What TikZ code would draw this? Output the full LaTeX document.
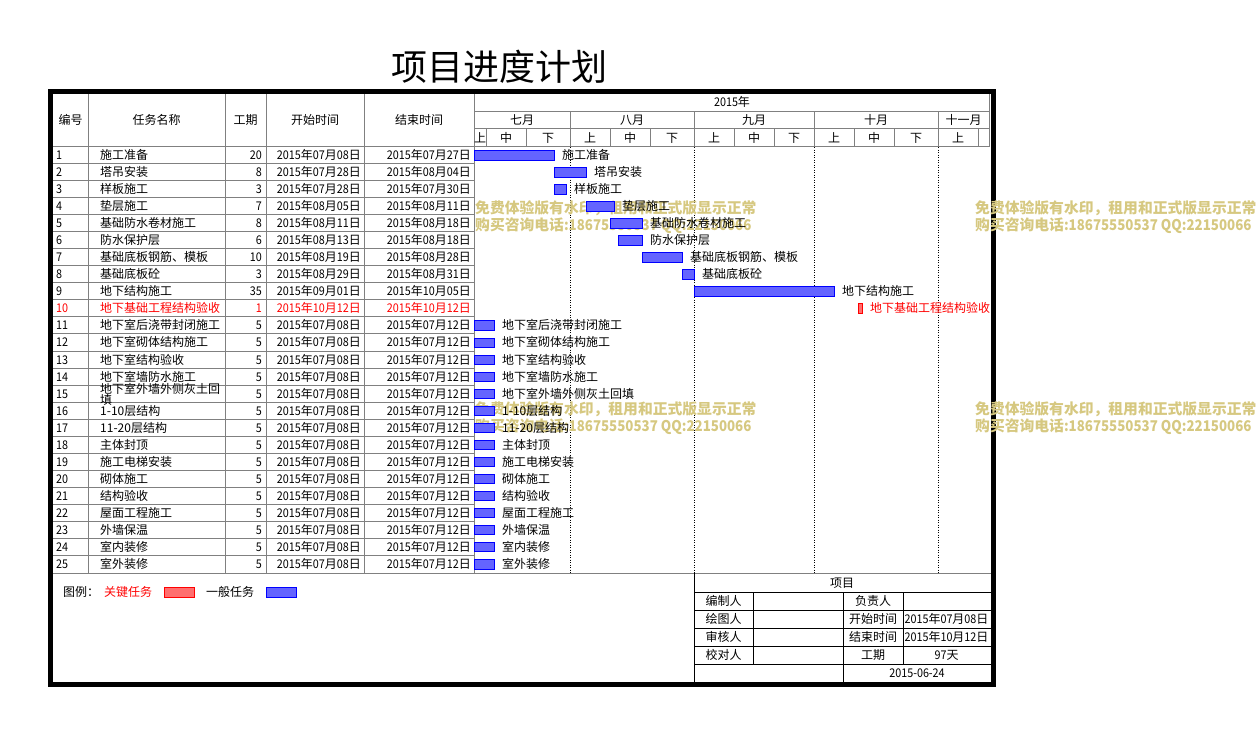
\documentclass[tikz,border=0pt]{standalone}
\usepackage{fontspec}
\setmainfont{Noto Sans CJK SC}
\newfontfamily\numf{Noto Sans CJK SC}[FakeStretch=0.9]
\definecolor{gridgray}{RGB}{128,128,128}
\definecolor{wmcol}{RGB}{214,200,128}
\definecolor{barblue}{RGB}{100,100,255}
\definecolor{barred}{RGB}{255,110,110}
\def\dte#1.#2\relax{{\numf 2015}年{\numf #1}月{\numf #2}日}
\begin{document}
\begin{tikzpicture}[x=1pt,y=-1pt,
  gridl/.style={draw=gridgray,line width=0.9pt},
  footl/.style={draw=black,line width=0.9pt},
  dotl/.style={draw=black,line width=1pt,dash pattern=on 1pt off 1.5pt},
  txt/.style={inner sep=0pt,font=\fontsize{12}{12}\selectfont,text height=10.5pt,text depth=1.5pt},
  wm/.style={inner sep=0pt,anchor=west,text=wmcol,font=\fontsize{14.8}{14.8}\selectfont\bfseries},
  barblack/.style={draw=blue,fill=barblue,line width=0.9pt},
  barred/.style={draw=red,fill=barred,line width=0.9pt}]
\useasboundingbox (0,0) rectangle (1258,734);

% title
\node[inner sep=0pt,font=\fontsize{36}{36}\selectfont] (title) at (499,67) {项目进度计划};

% left table grid
\foreach \x in {88,225,266,364,474} \draw[gridl] (\x,93) -- (\x,573);
\draw[gridl] (53,146.5) -- (989,146.5);
\foreach \k in {1,...,24} \draw[gridl] (53,146.5+\k*17.04) -- (474,146.5+\k*17.04);
\draw[gridl] (53,573) -- (992,573);

% gantt header grid
\draw[gridl] (474,111) -- (989,111);
\draw[gridl] (474,128.5) -- (989,128.5);
\draw[gridl] (989,93) -- (989,146.5);
\foreach \x in {570,694,814,938} \draw[gridl] (\x,111) -- (\x,146.5);
\foreach \x in {486,526,610,650,734,774,854,894,978} \draw[gridl] (\x,128.5) -- (\x,146.5);
\foreach \x in {570,694,814,938} \draw[dotl] (\x,147) -- (\x,572.5);

% footer grid
\draw[footl] (694,573) -- (694,683);
\foreach \y in {592,610,628,646,664} \draw[footl] (694,\y) -- (992,\y);
\draw[footl] (753,592) -- (753,664);
\draw[footl] (903,592) -- (903,664);
\draw[footl] (843,592) -- (843,683);

% frame
\draw[line width=5pt] (50.5,91.5) rectangle (993.5,684.5);

% header texts
\node[txt] (hno) at (70.5,120) {编号};
\node[txt] (hnm) at (156.5,120) {任务名称};
\node[txt] (hdu) at (245.5,120) {工期};
\node[txt] (hsd) at (315,120) {开始时间};
\node[txt] (hed) at (419,120) {结束时间};
\node[txt] (hyr) at (732,102) {{\numf 2015}年};
\node[txt] (m7) at (522,119.5) {七月};
\node[txt] (m8) at (632,119.5) {八月};
\node[txt] (m9) at (754,119.5) {九月};
\node[txt] (m10) at (876,119.5) {十月};
\node[txt] (m11) at (963.5,119.5) {十一月};
\foreach \x/\t [count=\n] in {480/上,506/中,548/下,590/上,630/中,672/下,714/上,754/中,794/下,834/上,874/中,916/下,958/上}
  \node[txt] (sub\n) at (\x,137.5) {\t};

% watermarks
\foreach \x/\y [count=\n] in {475/208,975/208,475/409,975/409}{
  \node[wm] (wma\n) at (\x,\y) {免费体验版有水印，租用和正式版显示正常};
  \node[wm] (wmb\n) at (\x,\y+17.5) {购买咨询电话{\numf :18675550537 QQ:22150066}};
}

% rows
\foreach \i/\nm/\d/\sa/\ea/\s/\e/\c in {
 1/施工准备/20/07.08/07.27/0/19/black,
 2/塔吊安装/8/07.28/08.04/20/27/black,
 3/样板施工/3/07.28/07.30/20/22/black,
 4/垫层施工/7/08.05/08.11/28/34/black,
 5/基础防水卷材施工/8/08.11/08.18/34/41/black,
 6/防水保护层/6/08.13/08.18/36/41/black,
 7/基础底板钢筋、模板/10/08.19/08.28/42/51/black,
 8/基础底板砼/3/08.29/08.31/52/54/black,
 9/地下结构施工/35/09.01/10.05/55/89/black,
 10/地下基础工程结构验收/1/10.12/10.12/96/96/red,
 11/地下室后浇带封闭施工/5/07.08/07.12/0/4/black,
 12/地下室砌体结构施工/5/07.08/07.12/0/4/black,
 13/地下室结构验收/5/07.08/07.12/0/4/black,
 14/地下室墙防水施工/5/07.08/07.12/0/4/black,
 15/地下室外墙外侧灰土回填/5/07.08/07.12/0/4/black,
 16/1-10层结构/5/07.08/07.12/0/4/black,
 17/11-20层结构/5/07.08/07.12/0/4/black,
 18/主体封顶/5/07.08/07.12/0/4/black,
 19/施工电梯安装/5/07.08/07.12/0/4/black,
 20/砌体施工/5/07.08/07.12/0/4/black,
 21/结构验收/5/07.08/07.12/0/4/black,
 22/屋面工程施工/5/07.08/07.12/0/4/black,
 23/外墙保温/5/07.08/07.12/0/4/black,
 24/室内装修/5/07.08/07.12/0/4/black,
 25/室外装修/5/07.08/07.12/0/4/black}{
  \pgfmathsetmacro\yc{146.5+(\i-0.5)*17.04}
  \pgfmathsetmacro\xa{474+4*\s}
  \pgfmathsetmacro\xb{474+4*(\e+1)}
  \node[txt,anchor=west,text=\c] (no\i) at (56,\yc) {\numf\i};
  \ifnum\i=15
    \node[txt,anchor=west,text=\c] (nm\i) at (100,\yc-4.5) {地下室外墙外侧灰土回};
    \node[txt,anchor=west,text=\c] (nmb\i) at (100,\yc+6.5) {填};
  \else
    \node[txt,anchor=west,text=\c] (nm\i) at (100,\yc) {\nm};
  \fi
  \node[txt,anchor=east,text=\c] (du\i) at (262,\yc) {\numf\d};
  \node[txt,anchor=east,text=\c] (sd\i) at (361,\yc) {\expandafter\dte\sa\relax};
  \node[txt,anchor=east,text=\c] (ed\i) at (471,\yc) {\expandafter\dte\ea\relax};
  \draw[bar\c] (\xa,\yc-4.5) rectangle (\xb,\yc+5);
  \node[txt,anchor=west,text=\c] (lb\i) at (\xb+8,\yc) {\nm};
}

% legend
\node[txt,anchor=west] (lg) at (63,591.5) {图例：};
\node[txt,anchor=west,text=red] (lgk) at (104,591.5) {关键任务};
\draw[barred] (164,587) rectangle (194,597);
\node[txt,anchor=west] (lgn) at (206,591.5) {一般任务};
\draw[barblack] (266,587) rectangle (296,597);

% footer texts
\node[txt] (fxm) at (842,582.5) {项目};
\node[txt] (fbz) at (723.5,601) {编制人};
\node[txt] (fht) at (723.5,619) {绘图人};
\node[txt] (fsh) at (723.5,637) {审核人};
\node[txt] (fjd) at (723.5,655) {校对人};
\node[txt] (ffz) at (873,601) {负责人};
\node[txt] (fks) at (873,619) {开始时间};
\node[txt] (fjs) at (873,637) {结束时间};
\node[txt] (fgq) at (873,655) {工期};
\node[txt] (fksv) at (946.5,619) {\dte 07.08\relax};
\node[txt] (fjsv) at (946.5,637) {\dte 10.12\relax};
\node[txt] (fgqv) at (946.5,655) {{\numf 97}天};
\node[txt] (fdate) at (917,673) {\numf 2015-06-24};
\end{tikzpicture}
\end{document}
